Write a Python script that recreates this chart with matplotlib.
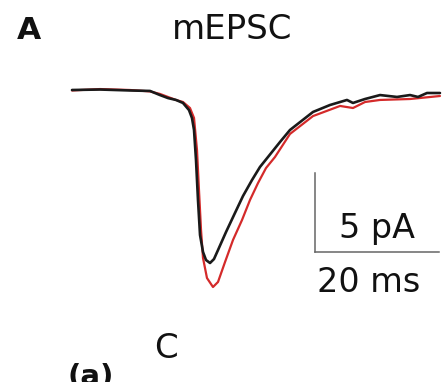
import matplotlib
matplotlib.use("Agg")
import matplotlib.pyplot as plt

# Trace data: time (ms), current (pA)
t_black = [0, 4.52, 9.35, 12.58, 14.19, 15.48, 16.77, 17.90, 18.87, 19.35, 19.68, 20.0,
           20.32, 20.65, 21.13, 21.61, 22.26, 22.90, 23.55, 24.84, 26.29, 27.58, 29.03,
           30.32, 31.61, 33.55, 35.16, 38.87, 41.61, 44.35, 45.32, 47.26, 49.68, 52.42,
           54.52, 55.81, 57.26, 59.35]
i_black = [0, 0.03, -0.03, -0.06, -0.32, -0.51, -0.63, -0.82, -1.27, -1.77, -2.53, -4.43,
           -6.96, -9.18, -10.25, -10.76, -10.95, -10.70, -10.13, -8.99, -7.78, -6.71, -5.70,
           -4.87, -4.24, -3.29, -2.53, -1.39, -0.95, -0.63, -0.82, -0.57, -0.32, -0.44,
           -0.32, -0.44, -0.19, -0.19]

t_red = [0, 4.52, 9.35, 12.58, 14.19, 15.48, 16.77, 17.90, 19.03, 19.68, 20.16, 20.48,
         20.81, 21.13, 21.77, 22.74, 23.55, 24.68, 25.97, 27.42, 28.71, 30.0, 31.29, 32.74,
         35.16, 38.87, 43.23, 45.32, 47.26, 49.68, 54.52, 59.35]
i_red = [-0.03, 0.06, 0.0, -0.09, -0.25, -0.44, -0.63, -0.76, -1.14, -1.77, -3.80, -6.33,
         -8.86, -10.63, -11.90, -12.47, -12.15, -10.89, -9.49, -8.23, -6.96, -5.89, -4.94,
         -4.24, -2.78, -1.65, -1.01, -1.14, -0.76, -0.63, -0.57, -0.38]

scale_pA = 5
scale_ms = 20
title = "mEPSC"
panel_label = "A"
next_panel = "C"
sub_label = "(a)"

plt.rcParams['font.family'] = ['DejaVu Sans']

fig = plt.figure(figsize=(4.42, 3.82), dpi=100)
ax = fig.add_axes([0, 0, 1, 1])
ax.set_xlim(-72 / 6.2, (442 - 72) / 6.2)
ax.set_ylim(-(382 - 90) / 15.8, 90 / 15.8)
ax.axis('off')

ax.plot(t_red, i_red, color='#d42a2a', lw=1.6, solid_joinstyle='round', solid_capstyle='round')
ax.plot(t_black, i_black, color='#1a1a1a', lw=1.9, solid_joinstyle='round', solid_capstyle='round')

# scale bar
x0, y0 = (315 - 72) / 6.2, -(252 - 90) / 15.8
ax.plot([x0, x0], [y0, y0 + scale_pA], color='#666666', lw=1.1)
ax.plot([x0, x0 + scale_ms], [y0, y0], color='#666666', lw=1.1)

def px(x, y):
    return x / 442, 1 - y / 382

c = '#111111'
fig.text(*px(377, 238), f"{scale_pA} pA", fontsize=24, ha='center', va='baseline', color=c)
fig.text(*px(369, 292), f"{scale_ms} ms", fontsize=24, ha='center', va='baseline', color=c)
fig.text(*px(232, 39), title, fontsize=24.5, ha='center', va='baseline', color=c)
fig.text(*px(29, 39), panel_label, fontsize=22.5, fontweight='bold', ha='center', va='baseline', color=c)
fig.text(*px(166, 358), next_panel, fontsize=24.5, ha='center', va='baseline', color=c)
fig.text(*px(68, 385), sub_label, fontsize=21, fontweight='bold', ha='left', va='baseline', color=c)

fig.savefig("out.png", dpi=100)
